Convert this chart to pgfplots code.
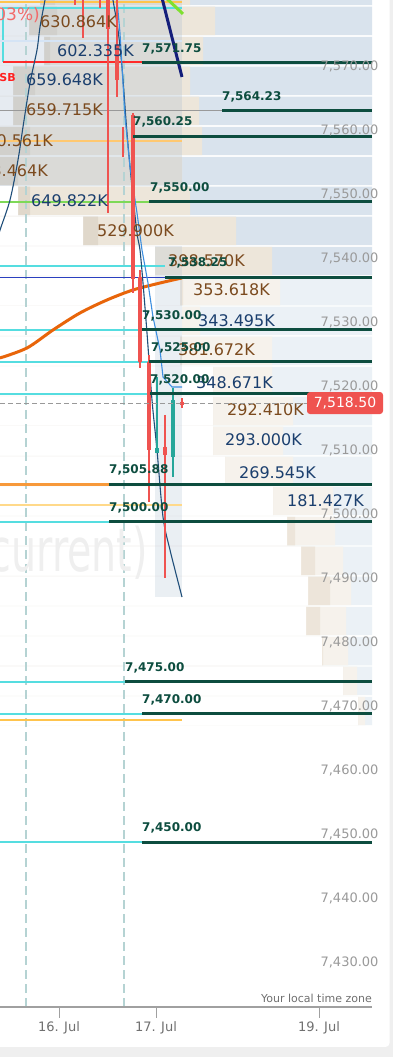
\documentclass[border=0pt]{standalone}
\usepackage{pgfplots}
\pgfplotsset{compat=1.18}
\usepackage{pgfplotstable}
\usepackage{fontspec}
\setmainfont{DejaVu Sans}
\definecolor{lvl}{HTML}{0D4D3F}
\definecolor{tealc}{HTML}{55DDE0}
\definecolor{ema}{HTML}{E8650A}
\definecolor{orl}{HTML}{F7993A}
\definecolor{yel}{HTML}{FFC44D}
\definecolor{lyel}{HTML}{FFD98A}
\definecolor{lor}{HTML}{FFC870}
\definecolor{grn}{HTML}{7ED957}
\definecolor{rblue}{HTML}{2A3FBF}
\definecolor{navyk}{HTML}{141E7A}
\definecolor{lime}{HTML}{7FE030}
\definecolor{dblue}{HTML}{1F4E79}
\definecolor{lblue}{HTML}{3D8FE0}
\definecolor{cred}{HTML}{EF5350}
\definecolor{cteal}{HTML}{26A69A}
\definecolor{grl}{HTML}{999999}
\definecolor{whl}{HTML}{D5E4F5}
\definecolor{redl}{HTML}{FF2A2A}
\definecolor{bluU}{HTML}{D9E3ED}
\definecolor{bluL}{HTML}{EBF1F6}
\definecolor{begU}{HTML}{EDE6DA}
\definecolor{begL}{HTML}{F6F2EC}
\definecolor{dbgU}{HTML}{E0D8CB}
\definecolor{dbgL}{HTML}{EDE5DA}
\definecolor{ovl}{HTML}{AFC0D1}
\definecolor{vdash}{HTML}{B5D3D3}
\definecolor{brownt}{HTML}{7B4A1E}
\definecolor{navyt}{HTML}{1B3F6E}
\definecolor{wm}{HTML}{EFEFEF}
\definecolor{tgray}{HTML}{707070}
\definecolor{ygray}{HTML}{9A9A9A}
\definecolor{axgray}{HTML}{A0A0A0}
\definecolor{bgout}{HTML}{EFEFEF}
\definecolor{pctred}{HTML}{F26B6B}
\definecolor{usbred}{HTML}{FF2020}

\pgfplotstableread{
y L D B R
7582.97 40 55 190 372
7578.28 29 57 215 372
7573.59 44 50 203 372
7568.91 13 35 190 372
7564.22 13 27 199 372
7559.53 0 30 202 372
7554.84 0 18 182 372
7550.16 18 30 190 372
7545.47 83 98 236 372
7540.78 155 155 272 372
}\profhigh
\pgfplotstableread{
y L D B R
7536.09 180 183 280 372
7531.41 182 182 200 372
7526.72 180 182 272 372
7522.03 213 213 272 372
7517.34 213 213 293 372
7512.66 213 213 283 372
7507.97 225 225 293 372
7503.28 273 273 333 372
7498.59 287 295 335 372
7493.91 301 315 343 372
7489.22 308 330 351 372
7484.53 306 320 346 372
7479.84 322 323 348 372
7475.16 343 343 357 372
7470.47 358 358 365 372
}\proflow

\tikzset{
  lvllab/.style={anchor=base west, inner sep=0pt, yshift=10.5pt, text=lvl,
    font=\fontsize{12}{14}\selectfont\bfseries},
  vol/.style={anchor=west, inner sep=0pt, font=\fontsize{16}{18}\selectfont},
}

\begin{document}
\begin{tikzpicture}[x=1pt,y=1pt]
\useasboundingbox (0,0) rectangle (393,1057);
\clip (0,0) rectangle (393,1057);
\fill[bgout] (0,0) rectangle (393,1057);
\fill[white, rounded corners=4pt] (-10,10) rectangle (389.5,1070);
\begin{axis}[
  at={(0pt,50pt)}, anchor=south west,
  scale only axis, width=393pt, height=1007pt,
  xmin=0, xmax=393, ymin=7424.22, ymax=7581.56,
  clip=false, axis on top,
  axis x line*=bottom, axis y line*=right,
  x axis line style={draw=none}, y axis line style={draw=none},
  xtick={59,156,319}, xticklabels={16. Jul,17. Jul,19. Jul},
  tick align=outside, major tick length=11pt,
  xtick style={draw=axgray, line width=1pt},
  xticklabel style={text=tgray, font=\fontsize{13}{15}\selectfont},
  ytick={7430,7440,...,7570},
  ytick style={draw=none},
  yticklabel style={text=ygray, font=\fontsize{13}{15}\selectfont,
    anchor=south east, xshift=-22pt, yshift=-2pt,
    /pgf/number format/fixed, /pgf/number format/fixed zerofill,
    /pgf/number format/precision=2, /pgf/number format/1000 sep={,},
    /pgf/number format/assume math mode=true},
]
% volume profile
\addplot[xbar, bar width=4.45, bar shift=0pt, fill=bluU, draw=none] table[x=R,y=y] {\profhigh};
\addplot[xbar, bar width=4.45, bar shift=0pt, fill=begU, draw=none] table[x=B,y=y] {\profhigh};
\addplot[xbar, bar width=4.45, bar shift=0pt, fill=dbgU, draw=none] table[x=D,y=y] {\profhigh};
\addplot[xbar, bar width=4.6, bar shift=0pt, fill=white, draw=none] table[x=L,y=y] {\profhigh};
\addplot[xbar, bar width=4.45, bar shift=0pt, fill=bluL, draw=none] table[x=R,y=y] {\proflow};
\addplot[xbar, bar width=4.45, bar shift=0pt, fill=begL, draw=none] table[x=B,y=y] {\proflow};
\addplot[xbar, bar width=4.45, bar shift=0pt, fill=dbgL, draw=none] table[x=D,y=y] {\proflow};
\addplot[xbar, bar width=4.6, bar shift=0pt, fill=white, draw=none] table[x=L,y=y] {\proflow};
% overlays
\addplot[fill=ovl, fill opacity=0.3, draw=none] coordinates {(0,7583) (182,7583) (182,7552.5) (0,7552.5)};
\addplot[fill=ovl, fill opacity=0.25, draw=none] coordinates {(155,7543.13) (182,7543.13) (182,7488.28) (155,7488.28)};
% vertical dashed
\addplot[vdash, line width=1.3, dash pattern=on 9pt off 5pt] coordinates {(26,7424.22) (26,7583)};
\addplot[vdash, line width=1.3, dash pattern=on 9pt off 5pt] coordinates {(124,7424.22) (124,7583)};
% watermark
\node[anchor=base east, inner sep=0pt, xscale=0.66, text=wm, font=\fontsize{60}{60}\selectfont] at (axis cs:148,7492.34) {(current)};
% thin horizontal lines
\addplot[yel, line width=1.2] coordinates {(0,7581.25) (182,7581.25)};
\addplot[tealc, line width=1.2] coordinates {(3,7571.88) (3,7580.31) (182,7580.31)};
\addplot[whl, line width=1.2] coordinates {(0,7575.16) (182,7575.16)};
\addplot[redl, line width=1.2] coordinates {(3,7571.88) (142,7571.88)};
\addplot[grl, line width=1] coordinates {(0,7564.23) (222,7564.23)};
\addplot[lor, line width=1.2] coordinates {(0,7559.53) (182,7559.53)};
\addplot[grn, line width=1.6] coordinates {(0,7550) (149,7550)};
\addplot[tealc, line width=1.5] coordinates {(0,7540) (165,7540)};
\addplot[rblue, line width=1.2] coordinates {(0,7538.25) (165,7538.25)};
\addplot[tealc, line width=1.5] coordinates {(0,7530) (142,7530)};
\addplot[tealc, line width=1.5] coordinates {(0,7525) (149,7525)};
\addplot[tealc, line width=1.5] coordinates {(0,7520) (150,7520)};
\addplot[orl, line width=2.5] coordinates {(0,7505.88) (182,7505.88)};
\addplot[lyel, line width=1.2] coordinates {(0,7502.66) (182,7502.66)};
\addplot[tealc, line width=1.5] coordinates {(0,7500) (109,7500)};
\addplot[tealc, line width=1.5] coordinates {(0,7475) (125,7475)};
\addplot[tealc, line width=1.5] coordinates {(0,7470) (142,7470)};
\addplot[yel, line width=1.2] coordinates {(0,7469.06) (182,7469.06)};
\addplot[tealc, line width=1.5] coordinates {(0,7450) (142,7450)};
% curves
\addplot[ema, line width=3, smooth] coordinates {(0,7525.63) (27,7527.19) (53,7530.00) (80,7532.66) (107,7534.69) (133,7536.25) (160,7537.34) (182,7538.13)};
\addplot[navyk, line width=3] coordinates {(161,7582.5) (182,7569.53)};
\addplot[lime, line width=3] coordinates {(162,7582.5) (183,7579.38)};
\addplot[dblue, line width=1.1, smooth] coordinates {(-3,7544) (0,7545.62) (10,7550.31) (18,7556.56) (23,7561.72) (30,7568.59) (37,7573.75) (40,7577.34) (45,7581.56) (46,7582.5)};
\addplot[dblue, line width=1.1, smooth] coordinates {(112,7583) (113,7581.56) (118,7576.87) (122,7571.09) (127,7560.78) (132,7552.34) (137,7545.16) (140,7542.50) (143,7537.34) (147,7529.53) (152,7519.06) (157,7511.25) (163,7500.78) (170,7495.63) (182,7488.28)};
\addplot[lblue, line width=1.1] coordinates {(116,7583) (117,7581.56) (120,7576.41) (125,7563.28) (130,7555.47) (137,7548.28) (142,7542.50) (148,7537.34) (153,7532.03) (160,7526.88) (163,7522.66) (172,7521.09) (182,7521.09)};
% candles
\addplot[cred, line width=1.2, unbounded coords=jump] coordinates {
(75,7585) (75,7580.78) (75,nan)
(83,7585) (83,7575.63) (83,nan)
(100,7585) (100,7580.31) (100,nan)
(108,7585) (108,7548.28) (108,nan)
(117,7585) (117,7566.41) (117,nan)
(123,7561.72) (123,7557.03) (123,nan)
(133,7563.91) (133,7535.78) (133,nan)
(140,7539.38) (140,7524.06) (140,nan)
(149,7526.09) (149,7503.13) (149,nan)
(165,7516.72) (165,7491.25) (165,nan)
(182,7519.38) (182,7517.81)};
\addplot[cred, line width=3.6, unbounded coords=jump] coordinates {
(108,7585) (108,7577.03) (108,nan)
(117,7574.53) (117,7569.06) (117,nan)
(133,7563.59) (133,7537.97) (133,nan)
(140,7538.28) (140,7525.00) (140,nan)
(149,7525.00) (149,7511.25) (149,nan)
(165,7511.72) (165,7510.47) (165,nan)
(182,7518.75) (182,7518.35)};
\addplot[cteal, line width=1.2, unbounded coords=jump] coordinates {
(157,7522.66) (157,7510.78) (157,nan)
(173,7520.94) (173,7507.03)};
\addplot[cteal, line width=3.6, unbounded coords=jump] coordinates {
(157,7511.56) (157,7510.78) (157,nan)
(173,7519.06) (173,7510.16)};
% volume labels
\node[vol, text=brownt] at (axis cs:40,7578.13) {630.864K};
\node[vol, text=navyt] at (axis cs:57,7573.59) {602.335K};
\node[vol, text=navyt] at (axis cs:26,7569.06) {659.648K};
\node[vol, text=brownt] at (axis cs:26,7564.38) {659.715K};
\node[vol, text=brownt] at (axis cs:-24,7559.53) {650.561K};
\node[vol, text=brownt] at (axis cs:-29,7554.84) {643.464K};
\node[vol, text=navyt] at (axis cs:31,7550.16) {649.822K};
\node[vol, text=brownt] at (axis cs:97,7545.47) {529.900K};
\node[vol, text=brownt] at (axis cs:168,7540.78) {398.570K};
\node[vol, text=brownt] at (axis cs:193,7536.25) {353.618K};
\node[vol, text=navyt] at (axis cs:198,7531.41) {343.495K};
\node[vol, text=brownt] at (axis cs:178,7526.88) {381.672K};
\node[vol, text=navyt] at (axis cs:196,7521.75) {348.671K};
\node[vol, text=brownt] at (axis cs:227,7517.50) {292.410K};
\node[vol, text=navyt] at (axis cs:225,7512.81) {293.000K};
\node[vol, text=navyt] at (axis cs:239,7507.66) {269.545K};
\node[vol, text=navyt] at (axis cs:287,7503.31) {181.427K};
% red texts
\node[anchor=east, inner sep=0pt, text=pctred, font=\fontsize{17}{19}\selectfont] at (axis cs:40,7579.22) {(0.03\%)};
\node[anchor=east, inner sep=0pt, text=usbred, font=\fontsize{11}{13}\selectfont\bfseries] at (axis cs:16,7569.38) {USB};
% current price dashed line
\addplot[grl, line width=1.2, dash pattern=on 5pt off 3pt] coordinates {(0,7518.5) (307,7518.5)};
% level lines
\addplot[lvl, line width=3, unbounded coords=jump] coordinates {
(142,7571.75) (372,7571.75) (372,nan)
(222,7564.23) (372,7564.23) (372,nan)
(133,7560.25) (372,7560.25) (372,nan)
(149,7550) (372,7550) (372,nan)
(165,7538.25) (372,7538.25) (372,nan)
(142,7530) (372,7530) (372,nan)
(149,7525) (372,7525) (372,nan)
(150,7520) (372,7520) (372,nan)
(109,7505.88) (372,7505.88) (372,nan)
(109,7500) (372,7500) (372,nan)
(125,7475) (372,7475) (372,nan)
(142,7470) (372,7470) (372,nan)
(142,7450) (372,7450)};
\node[lvllab] at (axis cs:142,7571.75) {7,571.75};
\node[lvllab] at (axis cs:222,7564.23) {7,564.23};
\node[lvllab] at (axis cs:133,7560.25) {7,560.25};
\node[lvllab] at (axis cs:150,7550) {7,550.00};
\node[lvllab] at (axis cs:168,7538.25) {7,538.25};
\node[lvllab] at (axis cs:142,7530) {7,530.00};
\node[lvllab] at (axis cs:151,7525) {7,525.00};
\node[lvllab] at (axis cs:150,7520) {7,520.00};
\node[lvllab] at (axis cs:109,7505.88) {7,505.88};
\node[lvllab] at (axis cs:109,7500) {7,500.00};
\node[lvllab] at (axis cs:125,7475) {7,475.00};
\node[lvllab] at (axis cs:142,7470) {7,470.00};
\node[lvllab] at (axis cs:142,7450) {7,450.00};
% price label
\node[fill=cred, rounded corners=3pt, text=white, font=\fontsize{14}{16}\selectfont, minimum width=76pt, minimum height=22pt, inner sep=0pt] at (axis cs:345,7518.59) {7,518.50};
% x axis line and time zone note
\addplot[axgray, line width=1.2] coordinates {(0,7424.22) (372,7424.22)};
\node[anchor=east, inner sep=0pt, text=tgray, font=\fontsize{11}{13}\selectfont] at (axis cs:372,7425.6) {Your local time zone};
\end{axis}
\end{tikzpicture}
\end{document}
